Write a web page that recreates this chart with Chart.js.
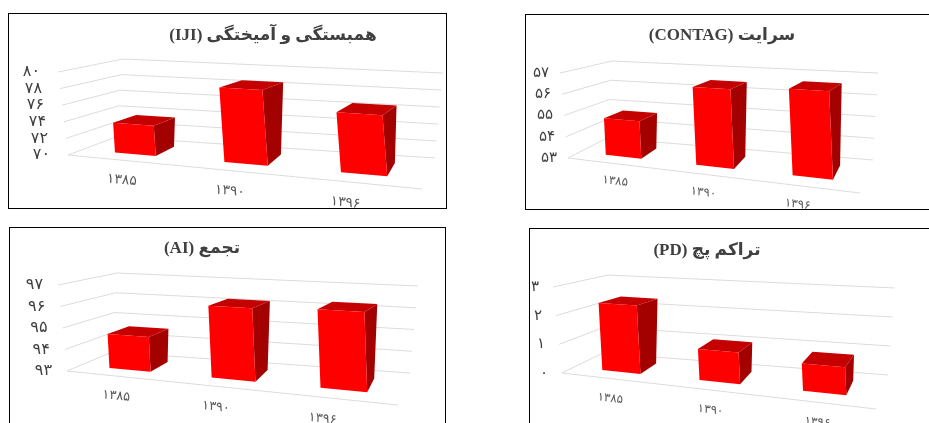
<!DOCTYPE html>
<html lang="fa">
<head>
<meta charset="utf-8">
<title>3D landscape metrics</title>
<script src="https://cdn.jsdelivr.net/npm/chart.js@4"></script>
<style>
    html, body { margin: 0; padding: 0; background: #fff; overflow: hidden; width: 929px; height: 423px; }
    .panel { position: absolute; border: 1px solid #000; background: #fff; }
    .panel canvas { position: absolute; left: 0; top: 0; }
</style>
</head>
<body>
<script>
// Chart data
const years = ['۱۳۸۵', '۱۳۹۰', '۱۳۹۶'];

const ijiValues = [73.6, 78.6, 76.6];
const ijiTicks = ['۷۰', '۷۲', '۷۴', '۷۶', '۷۸', '۸۰'];

const contagValues = [54.74, 56.5, 56.67];
const contagTicks = ['۵۳', '۵۴', '۵۵', '۵۶', '۵۷'];

const aiValues = [94.6, 96.19, 96.3];
const aiTicks = ['۹۳', '۹۴', '۹۵', '۹۶', '۹۷'];

const pdValues = [2.36, 1.03, 0.86];
const pdTicks = ['۰', '۱', '۲', '۳'];

const COLORS = { front: '#ff0000', top: '#c40000', side: '#a30000', grid: '#dcdcdc', title: '#404040', yTick: '#404040', xTick: '#595959' };
const FONT_FAMILY = '"Liberation Serif", "DejaVu Sans", serif';
const TICK_FAMILY = '"DejaVu Sans", sans-serif';

// Depth range of the bars inside the floor, 0 = front edge, 1 = back wall
const BAR_DEPTH = [0.3, 0.75];
// Horizontal foreshortening: the right side of the box sits closer to the viewer
const FORESHORTEN = 1.1;

const panels = [
    {
        title: 'همبستگی و آمیختگی (IJI)', values: ijiValues, ticks: ijiTicks, min: 70, max: 80, step: 2,
        left: 8, top: 13, width: 439, height: 196, canvasWidth: 438, titleX: 273, titleY: 36, barShare: 0.38,
        tickGap: 18, tickSize: 16, label: { size: 14, dx: -6.7, dy: 20, squeeze: 6 },
        box: { flb: [68, 155], flt: [58, 72], blt: [123, 59], blb: [116, 137], brt: [443, 73], brb: [435, 158], frb: [422, 189], frt: [408, 91] }
    },
    {
        title: 'سرایت (CONTAG)', values: contagValues, ticks: contagTicks, min: 53, max: 57, step: 1,
        left: 525, top: 14, width: 500, height: 196, canvasWidth: 403, titleX: 722, titleY: 36, barShare: 0.4,
        tickGap: 11, tickSize: 15, label: { size: 12, dx: -3.7, dy: 18, squeeze: 6 },
        box: { flb: [568, 158], flt: [560, 73], blt: [612, 61], blb: [607, 138], brt: [878, 73], brb: [873, 160], frb: [860, 193], frt: [852, 90] }
    },
    {
        title: 'تجمع (AI)', values: aiValues, ticks: aiTicks, min: 93, max: 97, step: 1,
        left: 9, top: 227, width: 437, height: 300, canvasWidth: 436, titleX: 202, titleY: 249, barShare: 0.41,
        tickGap: 15, tickSize: 16, label: { size: 13, dx: -8.7, dy: 20, squeeze: 7 },
        box: { flb: [67, 371], flt: [58, 285], blt: [117, 273], blb: [112, 352], brt: [418, 286], brb: [410, 373], frb: [398, 405], frt: [390, 301] }
    },
    {
        title: 'تراکم پچ (PD)', values: pdValues, ticks: pdTicks, min: 0, max: 3, step: 1,
        left: 529, top: 228, width: 500, height: 300, canvasWidth: 400, titleX: 707, titleY: 251, barShare: 0.4,
        tickGap: 14, tickSize: 15, label: { size: 12, dx: -1, dy: 20, squeeze: 1 },
        box: { flb: [562, 373], flt: [553, 287], blt: [608, 275], blb: [603, 353], brt: [895, 288], brb: [888, 375], frb: [876, 409], frt: [867, 304] }
    }
];

// Maps (u, v, w) in the unit box to canvas pixels
function makeProjection(box, originX, originY) {
    const lerp = (a, b, t) => [a[0] + (b[0] - a[0]) * t, a[1] + (b[1] - a[1]) * t];
    return (u, v, w) => {
        const s = u / (u + FORESHORTEN * (1 - u));
        const front = lerp(lerp(box.flb, box.frb, s), lerp(box.flt, box.frt, s), v);
        const back = lerp(lerp(box.blb, box.brb, s), lerp(box.blt, box.brt, s), v);
        const p = lerp(front, back, w);
        return [p[0] - originX, p[1] - originY];
    };
}

function polygon(ctx, points, color) {
    ctx.beginPath();
    points.forEach((p, i) => (i ? ctx.lineTo(p[0], p[1]) : ctx.moveTo(p[0], p[1])));
    ctx.closePath();
    ctx.fillStyle = color;
    ctx.fill();
}

function polyline(ctx, points) {
    ctx.beginPath();
    points.forEach((p, i) => (i ? ctx.lineTo(p[0], p[1]) : ctx.moveTo(p[0], p[1])));
    ctx.stroke();
}

// Draws walls, floor edge and tick labels through the chart's own scales
const boxGridPlugin = {
    id: 'boxGrid',
    beforeDatasetsDraw(chart, args, opts) {
        const { ctx, chartArea: area, scales } = chart;
        const project = opts.project;
        const label = opts.label;
        const toV = y => (area.bottom - y) / area.height;

        ctx.save();
        ctx.strokeStyle = COLORS.grid;
        ctx.lineWidth = 1;
        ctx.textAlign = 'right';
        ctx.textBaseline = 'middle';
        ctx.font = opts.tickSize + 'px ' + TICK_FAMILY;
        ctx.fillStyle = COLORS.yTick;
        scales.y.ticks.forEach((tick, i) => {
            const v = toV(scales.y.getPixelForTick(i));
            polyline(ctx, [project(0, v, 0), project(0, v, 1), project(1, v, 1)]);
            const start = project(0, v, 0);
            ctx.fillText(tick.label, start[0] - opts.tickGap, start[1]);
        });
        polyline(ctx, [project(0, 0, 0), project(1, 0, 0)]);

        // Category labels run parallel to the front edge of the floor
        const a = project(0, 0, 0);
        const b = project(1, 0, 0);
        const angle = Math.atan2(b[1] - a[1], b[0] - a[0]);
        ctx.textAlign = 'center';
        ctx.font = label.size + 'px ' + TICK_FAMILY;
        ctx.fillStyle = COLORS.xTick;
        scales.x.ticks.forEach((tick, i) => {
            const u = (scales.x.getPixelForTick(i) - area.left) / area.width;
            const p = project(u, 0, 0);
            ctx.save();
            ctx.translate(p[0] + label.dx + (1 - i) * label.squeeze, p[1] + label.dy);
            ctx.rotate(angle);
            ctx.fillText(tick.label, 0, 0);
            ctx.restore();
        });
        ctx.restore();
    },
    // The bars are replaced by three projected faces each
    beforeDatasetDraw(chart, args, opts) {
        const { ctx, chartArea: area } = chart;
        const project = opts.project;
        const [w0, w1] = BAR_DEPTH;
        chart.getDatasetMeta(args.index).data.forEach(bar => {
            const u0 = (bar.x - bar.width / 2 - area.left) / area.width;
            const u1 = (bar.x + bar.width / 2 - area.left) / area.width;
            // The value axis doesn't start at zero, so the base has to stop at the floor
            const v0 = Math.max((area.bottom - bar.base) / area.height, 0);
            const v1 = (area.bottom - bar.y) / area.height;
            polygon(ctx, [project(u1, v0, w0), project(u1, v0, w1), project(u1, v1, w1), project(u1, v1, w0)], COLORS.side);
            polygon(ctx, [project(u0, v1, w0), project(u1, v1, w0), project(u1, v1, w1), project(u0, v1, w1)], COLORS.top);
            polygon(ctx, [project(u0, v0, w0), project(u1, v0, w0), project(u1, v1, w0), project(u0, v1, w0)], COLORS.front);
        });
        return false;
    }
};

function createPanel(panel) {
    const wrap = document.createElement('div');
    wrap.className = 'panel';
    wrap.style.left = panel.left + 'px';
    wrap.style.top = panel.top + 'px';
    wrap.style.width = (panel.width - 2) + 'px';
    wrap.style.height = (panel.height - 2) + 'px';
    document.body.appendChild(wrap);

    const canvas = document.createElement('canvas');
    canvas.dir = 'rtl';
    canvas.width = panel.canvasWidth;
    canvas.height = panel.height;
    canvas.style.width = panel.canvasWidth + 'px';
    canvas.style.height = panel.height + 'px';
    wrap.appendChild(canvas);

    const originX = panel.left + 1;
    const originY = panel.top + 1;
    const fontSize = 17;

    // Off-centre titles: squeeze the layout so the centred title lands at titleX
    const shift = 2 * (panel.titleX - originX) - panel.canvasWidth;

    new Chart(canvas, {
        type: 'bar',
        data: {
            labels: years,
            datasets: [{ data: panel.values, backgroundColor: COLORS.front, barPercentage: panel.barShare, categoryPercentage: 1 }]
        },
        options: {
            responsive: false,
            animation: false,
            layout: { padding: { left: Math.max(shift, 0), right: Math.max(-shift, 0) } },
            plugins: {
                legend: { display: false },
                tooltip: { enabled: false },
                title: {
                    display: true,
                    text: panel.title,
                    color: COLORS.title,
                    font: { family: FONT_FAMILY, size: fontSize, weight: 'bold' },
                    padding: { top: panel.titleY - originY - fontSize * 0.6, bottom: 0 }
                },
                boxGrid: {
                    project: makeProjection(panel.box, originX, originY),
                    tickGap: panel.tickGap,
                    tickSize: panel.tickSize,
                    label: panel.label
                }
            },
            scales: {
                x: { display: false },
                y: {
                    display: false,
                    min: panel.min,
                    max: panel.max,
                    ticks: { stepSize: panel.step, callback: (value, i) => panel.ticks[i] }
                }
            }
        },
        plugins: [boxGridPlugin]
    });
}

panels.forEach(createPanel);
</script>
</body>
</html>
